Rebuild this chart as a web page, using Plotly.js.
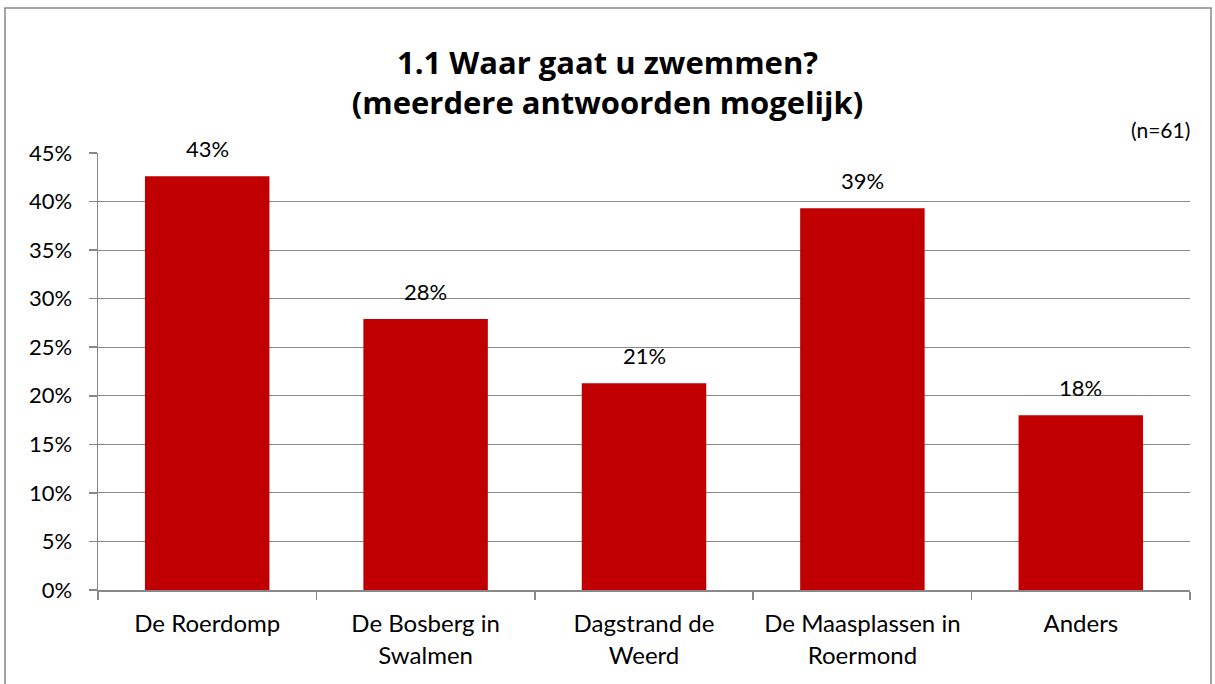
<!DOCTYPE html>
<html>
<head>
<meta charset="utf-8">
<script src="https://cdn.plot.ly/plotly-3.0.1.min.js"></script>
<style>
html,body{margin:0;padding:0;background:#fff;}
#chart{width:1215px;height:684px;}
</style>
</head>
<body>
<div id="chart"></div>
<script>
const categories = ["De Roerdomp", "De Bosberg in<br>Swalmen", "Dagstrand de<br>Weerd", "De Maasplassen in<br>Roermond", "Anders"];
const values = [0.426, 0.279, 0.213, 0.393, 0.180];
const valueLabels = ["43%", "28%", "21%", "39%", "18%"];
const yTicks = [0, 0.05, 0.10, 0.15, 0.20, 0.25, 0.30, 0.35, 0.40, 0.45];
const yTickLabels = ["0%", "5%", "10%", "15%", "20%", "25%", "30%", "35%", "40%", "45%"];
const titleText = "1.1 Waar gaat u zwemmen?<br>(meerdere antwoorden mogelijk)";
const noteText = "(n=61)";

const FONT = "Lato, 'Open Sans', sans-serif";
const TITLE_FONT = "'Open Sans', Lato, sans-serif";

const trace = {
  type: "bar",
  x: categories,
  y: values,
  marker: {color: "#C00000"},
  hoverinfo: "skip"
};

const annotations = categories.map((c, i) => ({
  x: c, y: values[i], xref: "x", yref: "y",
  text: valueLabels[i], showarrow: false,
  yanchor: "bottom", yshift: 12,
  font: {family: FONT, size: 22, color: "#000"}
}));
annotations.push({
  x: 1.002, y: 1.053, xref: "paper", yref: "paper",
  xanchor: "right", yanchor: "middle",
  text: noteText, showarrow: false,
  font: {family: FONT, size: 21, color: "#000"}
});

const layout = {
  width: 1215, height: 684,
  margin: {l: 98, r: 25, t: 153, b: 94},
  paper_bgcolor: "#fff", plot_bgcolor: "#fff",
  font: {family: FONT, size: 22, color: "#000"},
  title: {
    text: "<b>" + titleText + "</b>",
    font: {family: TITLE_FONT, size: 31, color: "#000"},
    x: 0.5, xref: "container", xanchor: "center",
    y: 1 - 74/684, yref: "container", yanchor: "middle"
  },
  bargap: 0.43,
  showlegend: false,
  xaxis: {
    showline: true, linecolor: "#888", linewidth: 1.5,
    ticks: "outside", ticklen: 8, tickcolor: "#888", tickwidth: 1.5,
    tickson: "boundaries",
    ticklabelstandoff: 12,
    showgrid: false,
    tickfont: {family: FONT, size: 24, color: "#000"},
    fixedrange: true
  },
  yaxis: {
    range: [0, 0.45],
    tickvals: yTicks, ticktext: yTickLabels,
    showline: true, linecolor: "#888", linewidth: 1.5,
    ticks: "outside", ticklen: 8, tickcolor: "#888", tickwidth: 1.5,
    ticklabelstandoff: 12,
    showgrid: true, gridcolor: "#888", gridwidth: 1.2,
    zeroline: false,
    tickfont: {family: FONT, size: 22, color: "#000"},
    fixedrange: true
  },
  annotations: annotations,
  shapes: [{
    type: "rect", xref: "paper", yref: "paper",
    x0: (5-98)/1092, x1: (1211-98)/1092,
    y0: (590-700)/437, y1: (590-8)/437,
    line: {color: "#888", width: 1.5}, fillcolor: "rgba(0,0,0,0)", layer: "below"
  }]
};

Plotly.newPlot("chart", [trace], layout, {displayModeBar: false, staticPlot: true});
</script>
</body>
</html>
